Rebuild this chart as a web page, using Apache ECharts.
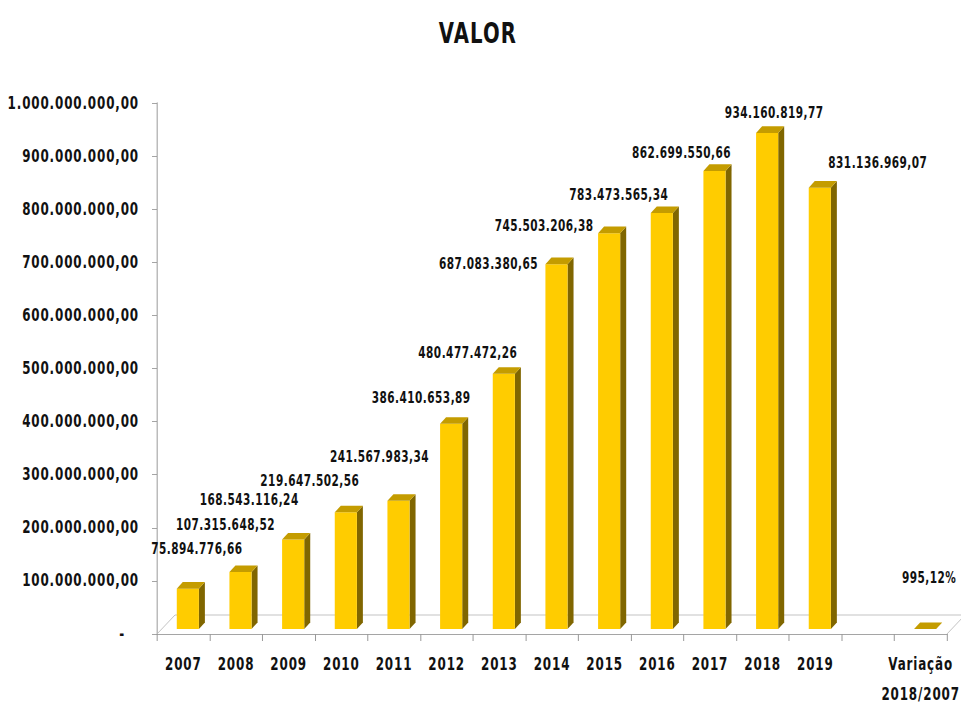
<!DOCTYPE html>
<html>
<head>
<meta charset="utf-8">
<script src="https://cdn.jsdelivr.net/npm/echarts@6/dist/echarts.min.js"></script>
<style>
	html,body{margin:0;padding:0;background:#fff;overflow:hidden;}
	/* fonte estreita: o gráfico é desenhado mais largo e comprimido na horizontal */
	#main{width:1232px;height:707px;transform:scaleX(0.78);transform-origin:0 0;}
	#main text{letter-spacing:1.1px;}
	#main text[style*="15px"]{letter-spacing:0.6px;}
	#main text[style*="28px"]{letter-spacing:1.5px;}
</style>
</head>
<body>
<div id="main"></div>
<script type="text/javascript">
// dados
var categories = ['2007','2008','2009','2010','2011','2012','2013','2014','2015','2016','2017','2018','2019','','Variação\n2018/2007'];
var valores = [75894776.66,107315648.52,168543116.24,219647502.56,241567983.34,386410653.89,480477472.26,687083380.65,745503206.38,783473565.34,862699550.66,934160819.77,831136969.07];
var variacaoPct = 995.12;
var yTicks = [0,100000000,200000000,300000000,400000000,500000000,600000000,700000000,800000000,900000000,1000000000];

// compressão horizontal (ver css)
var S = 0.78;
// deslocamento dos rótulos em relação ao topo da barra (px na tela)
var labelOffsets = [[9,-40],[-15,-47],[-44,-40],[-36,-31],[-19,-44],[-30,-26],[-36,-21],[-68,0],[-65,-7],[-43,-18],[-33,-18],[7,-20],[58,-25],[0,0],[4,-51]];

var FONT = "'DejaVu Sans Condensed','DejaVu Sans',sans-serif";

function fmtBR(v){
	var s = v.toFixed(2).split('.');
	var int = s[0].replace(/\B(?=(\d{3})+(?!\d))/g,'.');
	return int + ',' + s[1];
}

var barData = [];
for(var i=0;i<valores.length;i++){
	barData.push({value:[i,valores[i]], label:fmtBR(valores[i])});
}
// variação: fração (altura praticamente nula)
barData.push({value:[14,variacaoPct/100], label:fmtBR(variacaoPct)+'%'});

function renderBar(params, api){
	var idx = api.value(0);
	var base = api.coord([idx,0]);
	var top = api.coord([idx,api.value(1)]);
	var band = api.size([1,0])[0];
	var w = band*0.42;
	var shx = 5/S, shy = 5, dx = 6/S, dy = 6.6;
	var x0 = base[0]-w/2+shx-0.5/S, x1 = x0+w;
	var yb = base[1]-shy, yt = top[1]-shy;
	var off = labelOffsets[idx];
	return {
		type:'group',
		children:[
			{type:'polygon', shape:{points:[[x1,yt],[x1+dx,yt-dy],[x1+dx,yb-dy],[x1,yb]]}, style:{fill:'#806600'}},
			{type:'rect', shape:{x:x0,y:yt,width:w,height:yb-yt}, style:{fill:'#FFCC00'}},
			{type:'polygon', shape:{points:[[x0,yt],[x1,yt],[x1+dx,yt-dy],[x0+dx,yt-dy]]}, style:{fill:'#C49C00'}},
			{type:'text', x:x0+w/2+off[0]/S, y:yt+off[1], style:{
				text:barData[params.dataIndex].label, fill:'#111',
				font:'bold 15px '+FONT, align:'center', verticalAlign:'middle'
			}}
		]
	};
}

function renderFloor(params, api){
	var band = api.size([1,0])[0];
	var l = api.coord([0,0]), r = api.coord([categories.length-1,0]);
	var xl = l[0]-band/2, xr = r[0]+band/2, y0 = l[1];
	var ddx = 18/S, ddy = 19;
	return {
		type:'polyline',
		shape:{points:[[xl,y0],[xl+ddx,y0-ddy],[xr+ddx,y0-ddy],[xr,y0]]},
		style:{stroke:'#bbbbbb', lineWidth:1, fill:null}
	};
}

var myChart = echarts.init(document.getElementById('main'), null, {renderer:'svg'});
var option = {
	animation:false,
	backgroundColor:'#fff',
	title:{
		text:'VALOR', left:474/S, top:15, textAlign:'center',
		textStyle:{fontFamily:FONT, fontWeight:'bold', fontSize:28, color:'#111'}
	},
	grid:{left:157/S, right:14/S, top:103, bottom:73, outerBoundsMode:'none'},
	xAxis:{
		type:'category', data:categories, boundaryGap:true,
		axisLine:{lineStyle:{color:'#999'}},
		axisTick:{show:true, interval:0, length:7, lineStyle:{color:'#999', width:1/S}},
		axisLabel:{interval:0, margin:15, color:'#111', fontFamily:FONT, fontWeight:'bold', fontSize:17, lineHeight:30},
		splitLine:{show:false}
	},
	yAxis:{
		type:'value', min:yTicks[0], max:yTicks[yTicks.length-1], interval:yTicks[1]-yTicks[0],
		axisLine:{show:true, lineStyle:{color:'#999', width:1/S}},
		axisTick:{show:true, length:5/S, lineStyle:{color:'#999'}},
		splitLine:{show:false},
		axisLabel:{
			margin:18/S, color:'#111', fontFamily:FONT, fontWeight:'bold', fontSize:17,
			formatter:function(v){ return v===0 ? '{dash|-}' : fmtBR(v); },
			rich:{dash:{padding:[0,14/S,0,0], fontFamily:FONT, fontWeight:'bold', fontSize:17, color:'#111'}}
		}
	},
	series:[
		{type:'custom', silent:true, z:1, renderItem:renderFloor, data:[[0,0]], encode:{x:0,y:1}},
		{type:'custom', z:2, renderItem:renderBar, data:barData, encode:{x:0,y:1}}
	]
};
myChart.setOption(option);
</script>
</body>
</html>
